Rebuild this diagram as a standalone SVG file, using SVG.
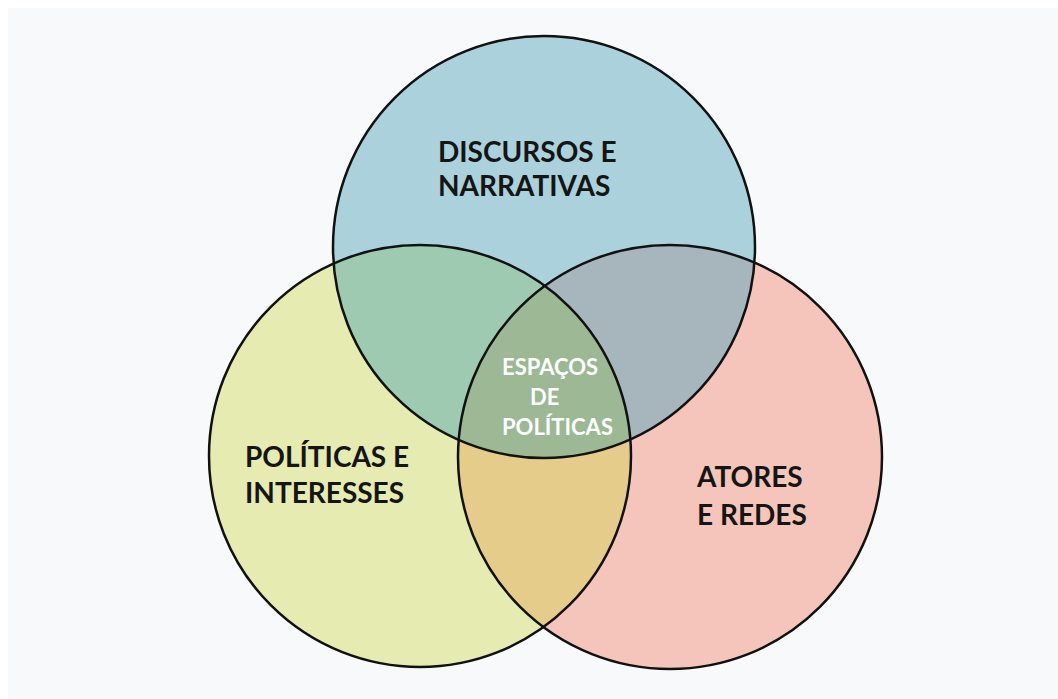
<svg xmlns="http://www.w3.org/2000/svg" width="1058" height="699" viewBox="0 0 1058 699">
<style>
.lbl{font-family:Lato,"Liberation Sans",sans-serif;font-weight:700;font-size:28px;fill:#151515}
.mid{font-family:Lato,"Liberation Sans",sans-serif;font-weight:700;font-size:22px;fill:#ffffff}
.ring{fill:none;stroke:#111;stroke-width:2.5}
</style>
<defs>
<clipPath id="cT"><circle cx="544" cy="247" r="211"/></clipPath>
<clipPath id="cL"><circle cx="420" cy="456" r="211"/></clipPath>
<clipPath id="cR"><circle cx="670" cy="457" r="212"/></clipPath>
</defs>
<rect width="1058" height="699" fill="#ffffff"/>
<rect x="8" y="8" width="1050" height="691" fill="#f8f9fb"/>
<g id="fills">
<circle cx="420" cy="456" r="211" fill="#e5ebb1"/>
<circle cx="670" cy="457" r="212" fill="#f5c5bb"/>
<circle cx="544" cy="247" r="211" fill="#abd2dc"/>
<g clip-path="url(#cL)"><circle cx="670" cy="457" r="212" fill="#e5cc8a"/></g>
<g clip-path="url(#cT)"><circle cx="420" cy="456" r="211" fill="#9fcab2"/></g>
<g clip-path="url(#cT)"><circle cx="670" cy="457" r="212" fill="#a7b5bd"/></g>
<g clip-path="url(#cT)"><g clip-path="url(#cL)"><circle cx="670" cy="457" r="212" fill="#9cb895"/></g></g>
</g>
<g id="node-discursos">
<circle class="ring" cx="544" cy="247" r="211"/>
<text class="lbl" x="438" y="162">DISCURSOS E</text>
<text class="lbl" x="438" y="196">NARRATIVAS</text>
</g>
<g id="node-politicas">
<circle class="ring" cx="420" cy="456" r="211"/>
<text class="lbl" x="245" y="467">POLÍTICAS E</text>
<text class="lbl" x="245" y="503">INTERESSES</text>
</g>
<g id="node-atores">
<circle class="ring" cx="670" cy="457" r="212"/>
<text class="lbl" x="697" y="487">ATORES</text>
<text class="lbl" x="697" y="525">E REDES</text>
</g>
<g id="node-espacos">
<text class="mid" x="502" y="375">ESPAÇOS</text>
<text class="mid" x="530" y="405">DE</text>
<text class="mid" x="502" y="435">POLÍTICAS</text>
</g>
<g id="connectors"></g>
</svg>
